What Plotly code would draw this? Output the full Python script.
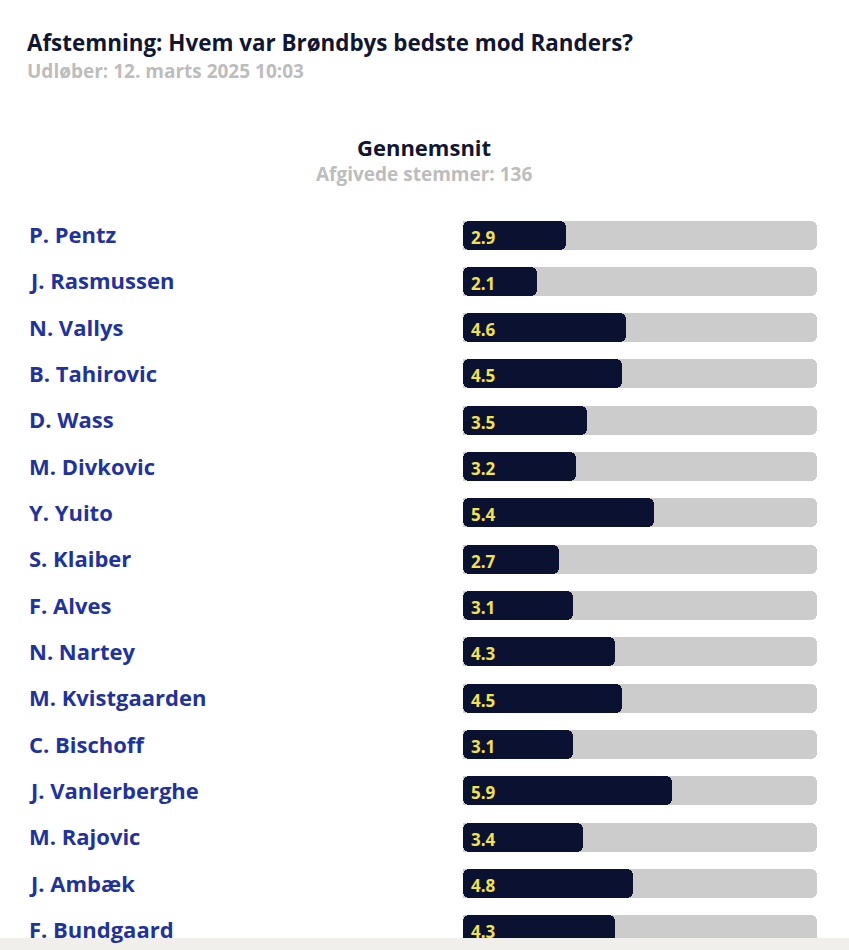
import plotly.graph_objects as go

players = ["P. Pentz", "J. Rasmussen", "N. Vallys", "B. Tahirovic", "D. Wass",
           "M. Divkovic", "Y. Yuito", "S. Klaiber", "F. Alves", "N. Nartey",
           "M. Kvistgaarden", "C. Bischoff", "J. Vanlerberghe", "M. Rajovic",
           "J. Ambæk", "F. Bundgaard"]
averages = [2.9, 2.1, 4.6, 4.5, 3.5, 3.2, 5.4, 2.7, 3.1, 4.3, 4.5, 3.1, 5.9, 3.4, 4.8, 4.3]
scale_max = 10

title_text = "Afstemning: Hvem var Brøndbys bedste mod Randers?"
subtitle_text = "Udløber: 12. marts 2025 10:03"
chart_title = "Gennemsnit"
votes_text = "Afgivede stemmer: 136"

W, H = 849, 950
FONT = "Open Sans"
DARK = "#0b1130"
GREY = "#cccccc"
BLUE = "#1f33a0"
YELLOW = "#f3e24a"

row_px = 46.33
first_px = 235
y_top = -first_px / row_px
y_bot = (H - first_px) / row_px
bw = 29 / row_px

fig = go.Figure()
# full-scale grey track (rounded at the right end)
fig.add_trace(go.Bar(y=players, x=[scale_max] * len(players), orientation="h",
                     marker=dict(color=GREY, cornerradius=6, line_width=0),
                     width=bw, hoverinfo="skip", showlegend=False))
# dark value bar drawn from value back to 0 so the rounded end is on the left
fig.add_trace(go.Bar(y=players, x=[-v for v in averages], base=averages, orientation="h",
                     marker=dict(color=DARK, cornerradius=6, line_width=0),
                     width=bw, hoverinfo="skip", showlegend=False))

ann = []
for p, v in zip(players, averages):
    ann.append(dict(x=0, y=p, xref="x", yref="y", text=f"<b>{v:.1f}</b>", showarrow=False,
                    xanchor="left", xshift=6, yshift=-2,
                    font=dict(family=FONT, size=17, color=YELLOW)))
    ann.append(dict(x=27 / W, y=p, xref="paper", yref="y", text=f"<b>{p}</b>", showarrow=False,
                    xanchor="left", yshift=1, font=dict(family=FONT, size=22, color=BLUE)))

def top_text(txt, x, ypx, size, color, anchor="left"):
    return dict(x=x / W, y=1 - ypx / H, xref="paper", yref="paper", text=f"<b>{txt}</b>",
                showarrow=False, xanchor=anchor, yanchor="middle", borderpad=0,
                font=dict(family=FONT, size=size, color=color))

ann.append(top_text(title_text, 26, 42, 22.4, "#111633"))
ann.append(top_text(subtitle_text, 26, 70.5, 19, "#bdbdbd"))
ann.append(top_text(chart_title, 424, 147, 22, "#111633", "center"))
ann.append(top_text(votes_text, 424, 174, 19, "#bdbdbd", "center"))

fig.update_layout(
    width=W, height=H, margin=dict(l=0, r=0, t=0, b=0),
    paper_bgcolor="white", plot_bgcolor="white",
    barmode="overlay", bargap=0,
    xaxis=dict(domain=[463 / W, 817 / W], range=[0, scale_max], visible=False, fixedrange=True),
    yaxis=dict(type="category", categoryorder="array", categoryarray=players,
               range=[y_bot, y_top], visible=False, fixedrange=True),
    annotations=ann,
    shapes=[dict(type="rect", xref="paper", yref="paper", x0=0, x1=1, y0=0, y1=12 / H,
                 fillcolor="#f0efeb", line_width=0, layer="above")],
    font=dict(family=FONT),
)

fig.write_html("out.html")
